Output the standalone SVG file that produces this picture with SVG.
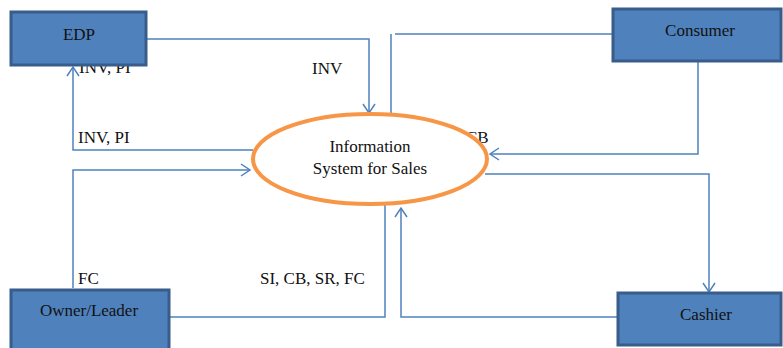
<svg xmlns="http://www.w3.org/2000/svg" width="783" height="348" viewBox="0 0 783 348">
<style>
.ln{fill:none;stroke:#4F81BD;stroke-width:1.5}
.box{fill:#4F81BD;stroke:#385D8A;stroke-width:3}
.t{font-family:'Liberation Serif','Times New Roman','DejaVu Serif',serif;font-size:17px;fill:#111}
.c{text-anchor:middle}
</style>
<defs>
<marker id="a" viewBox="-10 -7 12 14" markerWidth="12" markerHeight="14" refX="0" refY="0" orient="auto" markerUnits="userSpaceOnUse">
<path d="M-9,-6 L0,0 L-9,6" fill="none" stroke="#4F81BD" stroke-width="1.5"/>
</marker>
</defs>
<rect width="783" height="348" fill="#fff"/>
<g id="labels">
<text class="t" x="79" y="73">INV, PI</text>
<text class="t" x="312" y="74">INV</text>
<text class="t" x="78" y="143">INV, PI</text>
<text class="t" x="78" y="284">FC</text>
<text class="t" x="260" y="284">SI, CB, SR, FC</text>
<text class="t" x="466" y="143">CB</text>
</g>
<g id="connectors">
<path class="ln" d="M147,39 H369 V113" marker-end="url(#a)"/>
<path class="ln" d="M253,150 H73 V67" marker-end="url(#a)"/>
<path class="ln" d="M73,288 V170 H250" marker-end="url(#a)"/>
<path class="ln" d="M170,317 H385 V205"/>
<path class="ln" d="M612,34 H395"/>
<path class="ln" d="M391,34 V117"/>
<path class="ln" d="M698,62 V154 H490" marker-end="url(#a)"/>
<path class="ln" d="M485,174 H709 V292" marker-end="url(#a)"/>
<path class="ln" d="M617,317 H401 V208" marker-end="url(#a)"/>
</g>
<g id="is">
<ellipse cx="370" cy="159" rx="117" ry="45" fill="#fff" stroke="#F79646" stroke-width="4"/>
<text class="t c" x="370" y="152">Information</text>
<text class="t c" x="370" y="174">System for Sales</text>
</g>
<g id="edp">
<rect class="box" x="11" y="12" width="135" height="53"/>
<text class="t c" x="79" y="40">EDP</text>
</g>
<g id="consumer">
<rect class="box" x="613" y="9" width="168" height="52"/>
<text class="t c" x="700" y="36">Consumer</text>
</g>
<g id="owner">
<rect class="box" x="11" y="290" width="158" height="62"/>
<text class="t c" x="89" y="316">Owner/Leader</text>
</g>
<g id="cashier">
<rect class="box" x="618" y="293" width="163" height="52"/>
<text class="t c" x="706" y="320">Cashier</text>
</g>
</svg>
